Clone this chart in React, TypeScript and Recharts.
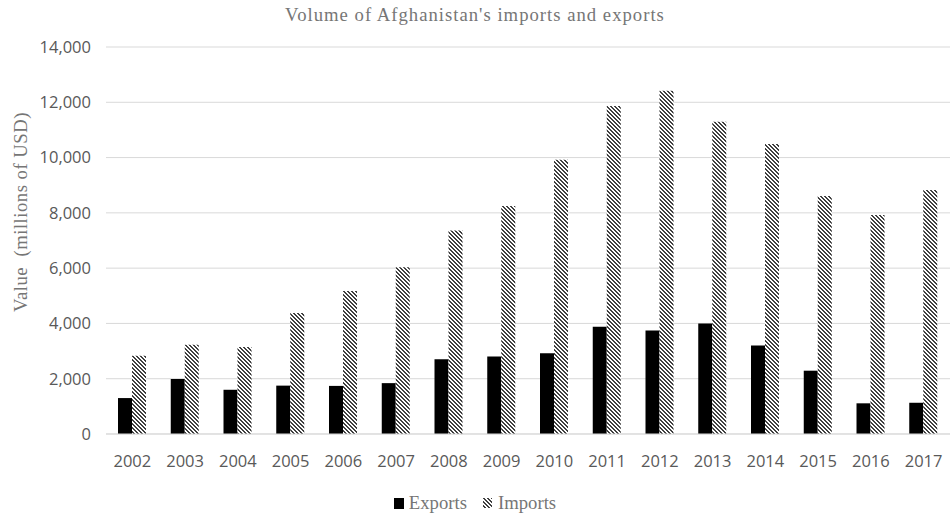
import React from 'react';
import { BarChart, Bar, XAxis, YAxis, CartesianGrid } from 'recharts';

// values (millions of USD)
const years = ['2002', '2003', '2004', '2005', '2006', '2007', '2008', '2009',
  '2010', '2011', '2012', '2013', '2014', '2015', '2016', '2017'];
const exportsValues = [1300, 1990, 1600, 1750, 1740, 1840, 2700, 2800,
  2920, 3880, 3740, 4000, 3200, 2290, 1110, 1130];
const importsValues = [2830, 3230, 3150, 4380, 5170, 6030, 7360, 8250,
  9920, 11870, 12420, 11300, 10490, 8610, 7920, 8830];
const yTicks = [0, 2000, 4000, 6000, 8000, 10000, 12000, 14000];

const chartData = years.map((year, i) => ({
  year,
  exports: exportsValues[i],
  imports: importsValues[i],
}));

const textGray = '#595959';
const serifGray = '#767676';
const serif = '"Liberation Serif", "Times New Roman", serif';
const sans = '"Open Sans", "Noto Sans", sans-serif';

// 4x4 "dark downward diagonal" tile
const StripePattern: React.FC<{ id: string }> = ({ id }) => {
  const cells: [number, number][] = [];
  for (let y = 0; y < 4; y++) {
    for (let x = 0; x < 4; x++) {
      const d = (((x - y) % 4) + 4) % 4;
      if (d === 0 || d === 1) cells.push([x, y]);
    }
  }
  return (
    <pattern id={id} width={4} height={4} patternUnits="userSpaceOnUse">
      <rect x={0} y={0} width={4} height={4} fill="#ffffff" shapeRendering="crispEdges" />
      {cells.map(([x, y]) => (
        <rect key={`${x}-${y}`} x={x} y={y} width={1} height={1} fill="#404040" shapeRendering="crispEdges" />
      ))}
    </pattern>
  );
};

const ChartLegend = () => (
  <div style={{
    position: 'absolute', left: 0, top: 492, width: 950,
    display: 'flex', justifyContent: 'center', alignItems: 'center',
    fontFamily: serif, fontSize: 18.7, lineHeight: '22px', color: serifGray,
  }}>
    <span style={{ display: 'inline-block', width: 10, height: 11, background: '#000', marginRight: 5 }} />
    <span style={{ marginRight: 16 }}>Exports</span>
    <svg width={9} height={10} style={{ marginRight: 6 }}>
      <defs><StripePattern id="legendStripes" /></defs>
      <rect width={9} height={10} fill="url(#legendStripes)" />
    </svg>
    <span>Imports</span>
  </div>
);

const App: React.FC = () => {
  return (
    <div style={{ position: 'relative', width: 950, height: 519, background: '#fff' }}>
      <style>{'body { margin: 0; }'}</style>
      <div style={{
        position: 'absolute', top: 4, left: 0, width: 950, textAlign: 'center',
        fontFamily: serif, fontSize: 18.7, lineHeight: '22px', letterSpacing: 1,
        color: serifGray,
      }}>
        Volume of Afghanistan's imports and exports
      </div>
      <div style={{
        position: 'absolute', left: 21, top: 212, whiteSpace: 'pre',
        transform: 'translate(-50%, -50%) rotate(-90deg)',
        fontFamily: serif, fontSize: 18.7, lineHeight: '22px', letterSpacing: 0.5,
        color: serifGray,
      }}>
        {'Value  (millions of USD)'}
      </div>
      <BarChart
        width={950}
        height={519}
        data={chartData}
        margin={{ top: 47, right: 0, left: 0, bottom: 0 }}
        barGap={0}
        barSize={14}
      >
        <defs>
          <StripePattern id="importStripes" />
        </defs>
        <CartesianGrid vertical={false} stroke="#d9d9d9" strokeWidth={1} />
        <XAxis
          dataKey="year"
          height={85}
          tickLine={false}
          axisLine={{ stroke: '#d9d9d9' }}
          tickMargin={15}
          tick={{ fill: textGray, fontFamily: sans, fontSize: 16.5 }}
          interval={0}
        />
        <YAxis
          width={106}
          domain={[0, 14000]}
          ticks={yTicks}
          tickLine={false}
          axisLine={false}
          tickMargin={9}
          tick={{ fill: textGray, fontFamily: sans, fontSize: 16.5 }}
          tickFormatter={(v: number) => v.toLocaleString('en-US')}
        />
        <Bar dataKey="exports" name="Exports" fill="#000000" isAnimationActive={false} />
        <Bar dataKey="imports" name="Imports" fill="url(#importStripes)" isAnimationActive={false} />
      </BarChart>
      <ChartLegend />
    </div>
  );
};

export default App;
